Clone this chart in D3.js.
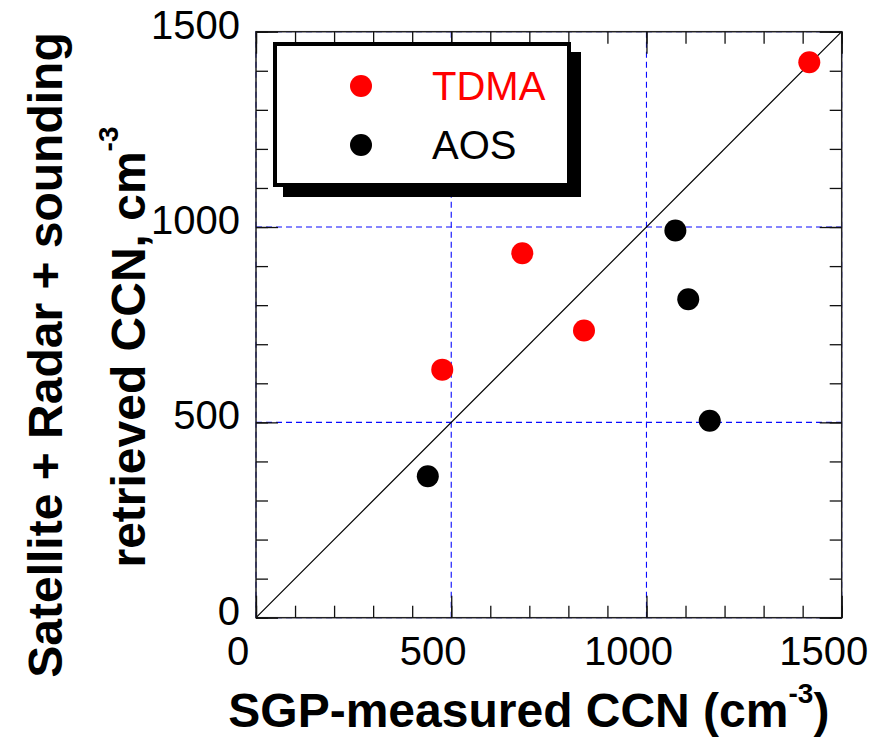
<!DOCTYPE html>
<html>
<head>
<meta charset="utf-8">
<style>
	body { margin: 0; background: #fff; }
	svg { display: block; font-family: Arial, 'Liberation Sans', sans-serif; }
	.grid { stroke: #0a0aff; stroke-width: 1.1; stroke-dasharray: 6,4; fill: none; }
	.frame { stroke: #222; stroke-width: 1.5; fill: none; }
	.tick-lbl { font-size: 40px; fill: #000; }
	.title { font-size: 48px; font-weight: bold; fill: #000; }
</style>
</head>
<body>
<svg width="881" height="738"></svg>
<script src="https://cdnjs.cloudflare.com/ajax/libs/d3/7.8.5/d3.min.js"></script>
<script>

// valores
var tdmaX = [477, 682, 840, 1417];
var tdmaY = [635, 933, 735, 1422];
var aosX = [440, 1074, 1107, 1162];
var aosY = [362, 991, 815, 504];

var majorTicks = [0, 500, 1000, 1500];
var minorTicks = d3.range(0, 1501, 100);
var gridVals = [0, 500, 1000, 1500];
var legendNames = ["TDMA", "AOS"];
var legendColors = ["#ff0000", "#000000"];

var svg = d3.select("svg");

var x = d3.scaleLinear().domain([0, 1500]).range([256, 841.7]);
var y = d3.scaleLinear().domain([0, 1500]).range([617.7, 31.7]);

var tdma = tdmaX.map(function (d, i) { return { x: d, y: tdmaY[i] }; });
var aos = aosX.map(function (d, i) { return { x: d, y: aosY[i] }; });

// rejilla punteada azul
svg.selectAll(".gx").data(gridVals).enter().append("line")
	.attr("class", "grid")
	.attr("x1", function (d) { return x(d); })
	.attr("x2", function (d) { return x(d); })
	.attr("y1", y(0)).attr("y2", y(1500));
svg.selectAll(".gy").data(gridVals).enter().append("line")
	.attr("class", "grid")
	.attr("y1", function (d) { return y(d); })
	.attr("y2", function (d) { return y(d); })
	.attr("x1", x(0)).attr("x2", x(1500));

// linea 1:1
svg.append("line")
	.attr("x1", x(0)).attr("y1", y(0))
	.attr("x2", x(1500)).attr("y2", y(1500))
	.attr("stroke", "#000").attr("stroke-width", 1.2);

// marco
svg.append("rect")
	.attr("class", "frame")
	.attr("x", x(0)).attr("y", y(1500))
	.attr("width", x(1500) - x(0))
	.attr("height", y(0) - y(1500));

// marcas hacia adentro en los cuatro lados
function ticks(gen, tx, ty) {
	svg.append("g")
		.attr("transform", "translate(" + tx + "," + ty + ")")
		.call(gen)
		.call(function (g) {
			g.select(".domain").remove();
			g.selectAll("line").attr("stroke", "#111").attr("stroke-width", 1.3);
			g.selectAll("text").remove();
		});
}
[[minorTicks, 12], [majorTicks, 22]].forEach(function (t) {
	ticks(d3.axisBottom(x).tickValues(t[0]).tickSize(-t[1]), 0, y(0));
	ticks(d3.axisTop(x).tickValues(t[0]).tickSize(-t[1]), 0, y(1500));
	ticks(d3.axisLeft(y).tickValues(t[0]).tickSize(-t[1]), x(0), 0);
	ticks(d3.axisRight(y).tickValues(t[0]).tickSize(-t[1]), x(1500), 0);
});

// etiquetas de los ejes
svg.selectAll(".xl").data(majorTicks).enter().append("text")
	.attr("class", "tick-lbl")
	.attr("text-anchor", "middle")
	.attr("x", function (d) { return x(d) - 18; })
	.attr("y", y(0) + 47)
	.text(function (d) { return d; });
svg.selectAll(".yl").data(majorTicks).enter().append("text")
	.attr("class", "tick-lbl")
	.attr("text-anchor", "end")
	.attr("x", x(0) - 16)
	.attr("y", function (d) { return y(d) + 7; })
	.text(function (d) { return d; });

// puntos
svg.selectAll(".tdma").data(tdma).enter().append("circle")
	.attr("cx", function (d) { return x(d.x); })
	.attr("cy", function (d) { return y(d.y); })
	.attr("r", 11)
	.attr("fill", legendColors[0]);
svg.selectAll(".aos").data(aos).enter().append("circle")
	.attr("cx", function (d) { return x(d.x); })
	.attr("cy", function (d) { return y(d.y); })
	.attr("r", 11)
	.attr("fill", legendColors[1]);

// leyenda con sombra
var lg = svg.append("g");
lg.append("rect")
	.attr("x", 283).attr("y", 52).attr("width", 298).attr("height", 145)
	.attr("fill", "#000");
lg.append("rect")
	.attr("x", 275).attr("y", 44).attr("width", 294).attr("height", 141)
	.attr("fill", "#fff").attr("stroke", "#000").attr("stroke-width", 4);
legendNames.forEach(function (n, i) {
	lg.append("circle")
		.attr("cx", 361).attr("cy", 86 + i * 59)
		.attr("r", 11).attr("fill", legendColors[i]);
	lg.append("text")
		.attr("class", "tick-lbl")
		.attr("x", 432).attr("y", 100 + i * 59)
		.style("fill", legendColors[i])
		.text(n);
});

// titulo eje x
var xt = svg.append("text")
	.attr("class", "title")
	.attr("text-anchor", "middle")
	.attr("x", x(750) - 20)
	.attr("y", 727);
xt.append("tspan").text("SGP-measured CCN (cm");
xt.append("tspan").attr("dy", -24).style("font-size", "28px").text("-3");
xt.append("tspan").attr("dy", 24).text(")");

// titulo eje y (dos lineas)
svg.append("text")
	.attr("class", "title")
	.attr("text-anchor", "middle")
	.attr("transform", "translate(62,355) rotate(-90)")
	.text("Satellite + Radar + sounding");
var yt2 = svg.append("text")
	.attr("class", "title")
	.attr("text-anchor", "middle")
	.attr("transform", "translate(145,347) rotate(-90)");
yt2.append("tspan").text("retrieved CCN, cm");
yt2.append("tspan").attr("dy", -27).style("font-size", "28px").text("-3");

</script>
</body>
</html>
